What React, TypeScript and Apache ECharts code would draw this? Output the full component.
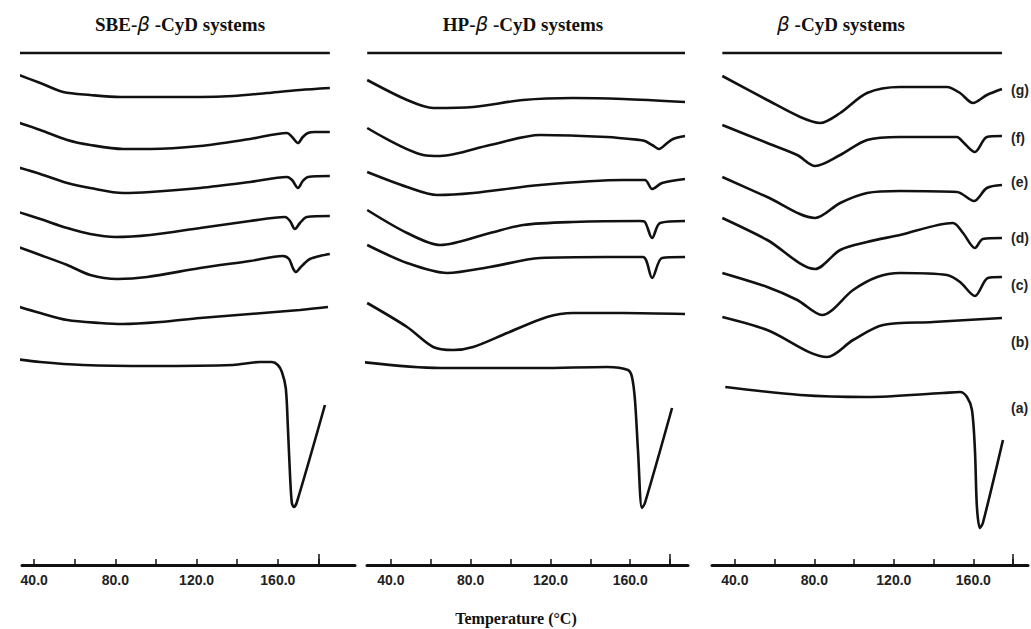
import React, { useEffect, useRef } from 'react';
import * as echarts from 'echarts';

// Temperature ticks / labels (°C)
const T_TICKS = [40, 60, 80, 100, 120, 140, 160, 180];
const T_LABELS = [40, 80, 120, 160];
const T_LONG_TICK = [180];

// Heat flow (arbitrary units, curves offset vertically) vs temperature (°C)
// SBE-β-CyD systems
const sbeTop = [[29.7, 512], [185.6, 512]];
const sbeG = [[29.7, 492], [43.0, 482], [54.3, 473], [67.6, 470], [82.3, 468], [88.7, 468], [121.7, 468], [137.9, 469], [154.6, 472], [170.9, 475], [185.6, 477]];
const sbeF = [[29.7, 444], [43.0, 435], [56.3, 425], [67.6, 420], [83.8, 416], [97.1, 416], [121.7, 419], [146.3, 426], [164.5, 432], [167.0, 428], [169.9, 422], [172.3, 428], [174.8, 432], [178.2, 433], [185.6, 433]];
const sbeE = [[29.7, 399], [43.0, 391], [56.3, 382], [67.6, 377], [83.8, 372], [97.1, 373], [121.7, 377], [146.3, 383], [164.5, 388], [167.0, 385], [169.9, 377], [172.3, 384], [174.8, 388], [185.6, 389]];
const sbeD = [[30.7, 354], [43.0, 346], [56.3, 337], [67.6, 331], [79.9, 328], [97.1, 330], [121.7, 337], [146.3, 344], [163.5, 348], [166.0, 344], [168.4, 336], [170.9, 342], [174.3, 348], [185.6, 349]];
const sbeC = [[30.7, 319], [43.0, 310], [56.3, 300], [67.6, 290], [80.9, 286], [95.6, 288], [121.7, 297], [146.3, 304], [162.5, 309], [165.5, 306], [167.4, 297], [168.9, 293], [170.9, 297], [173.3, 302], [175.8, 306], [180.7, 309], [185.6, 311]];
const sbeB = [[29.7, 260], [43.0, 252], [56.3, 245], [72.4, 242], [83.8, 241], [102.0, 243], [121.7, 247], [146.3, 251], [170.9, 255], [184.7, 258]];
const sbeA = [[27.2, 207], [43.0, 203], [64.1, 200], [97.1, 199], [137.9, 200], [151.2, 203], [157.1, 203], [160.0, 200], [162.0, 193], [163.9, 177], [164.9, 140], [166.0, 90], [166.9, 62], [167.9, 58], [169.4, 63], [183.2, 160]];

// HP-β-CyD systems
const hpTop = [[28.1, 512], [187.5, 512]];
const hpG = [[28.1, 485], [48.1, 465], [61.2, 457], [81.2, 458], [106.3, 465], [131.4, 467], [156.4, 466], [187.5, 463]];
const hpF = [[28.1, 437], [56.2, 410], [64.7, 409], [89.7, 420], [114.8, 430], [148.4, 428], [164.9, 425], [167.4, 424], [171.0, 420], [174.5, 416], [178.0, 421], [181.5, 426], [187.5, 429]];
const hpE = [[28.1, 393], [48.1, 378], [63.2, 370], [81.2, 372], [114.8, 380], [156.4, 385], [167.4, 385], [171.0, 376], [176.0, 382], [187.5, 386]];
const hpD = [[28.1, 355], [48.1, 332], [64.7, 320], [89.7, 332], [106.3, 340], [131.4, 343], [164.9, 344], [167.4, 343], [171.0, 327], [175.0, 342], [187.5, 344]];
const hpC = [[28.1, 320], [48.1, 302], [68.2, 292], [89.7, 298], [114.8, 307], [148.4, 308], [166.4, 308], [171.0, 287], [176.0, 307], [187.5, 308]];
const hpB = [[28.1, 262], [48.1, 238], [61.2, 218], [71.2, 215], [81.2, 218], [98.3, 232], [118.3, 248], [131.4, 252], [156.4, 252], [187.5, 251]];
const hpA = [[21.1, 204], [64.7, 197], [114.8, 197], [148.4, 198], [158.9, 195], [160.9, 188], [162.4, 165], [163.9, 115], [165.9, 57], [167.4, 62], [181.0, 157]];

// β-CyD systems
const bcTop = [[33.7, 512], [174.4, 512]];
const bcG = [[33.7, 489], [56.3, 465], [72.9, 448], [82.9, 442], [93.0, 452], [106.5, 472], [123.1, 478], [146.7, 478], [153.3, 472], [159.8, 462], [166.8, 470], [174.4, 476]];
const bcF = [[33.7, 440], [56.3, 422], [71.4, 410], [80.4, 399], [93.0, 410], [106.5, 425], [123.1, 428], [151.8, 428], [154.8, 423], [160.8, 413], [166.8, 428], [174.4, 429]];
const bcE = [[33.7, 388], [56.3, 368], [80.4, 347], [93.0, 362], [106.5, 372], [123.1, 374], [151.8, 373], [160.3, 364], [166.8, 377], [174.4, 380]];
const bcD = [[33.7, 347], [56.3, 325], [80.4, 296], [93.0, 315], [106.5, 323], [123.1, 330], [149.7, 342], [154.8, 332], [160.8, 317], [164.8, 326], [174.4, 327]];
const bcC = [[33.7, 292], [56.3, 278], [71.4, 265], [83.9, 250], [99.5, 275], [111.6, 288], [123.1, 292], [146.7, 290], [153.3, 283], [160.8, 269], [167.3, 287], [174.4, 288]];
const bcB = [[33.7, 248], [56.3, 235], [86.4, 208], [99.5, 225], [114.6, 240], [139.7, 243], [174.4, 247]];
const bcA = [[35.2, 178], [72.9, 170], [106.5, 168], [144.7, 172], [153.3, 173], [156.8, 168], [159.3, 155], [160.8, 115], [161.8, 58], [163.3, 37], [164.8, 42], [174.9, 125]];

const PANEL_TITLES = ['SBE-{b|β} -CyD systems', 'HP-{b|β} -CyD systems', '{b|β} -CyD systems'];
const CURVE_LABELS = ['(g)', '(f)', '(e)', '(d)', '(c)', '(b)', '(a)'];
const X_TITLE = 'Temperature (°C)';

const panels = [
  { left: 22, width: 333, min: 34, max: 198, curves: [sbeTop, sbeG, sbeF, sbeE, sbeD, sbeC, sbeB, sbeA], titleX: 180 },
  { left: 367, width: 321, min: 28, max: 189, curves: [hpTop, hpG, hpF, hpE, hpD, hpC, hpB, hpA], titleX: 523 },
  { left: 712, width: 316, min: 28.5, max: 187.5, curves: [bcTop, bcG, bcF, bcE, bcD, bcC, bcB, bcA], titleX: 841 },
];
const labelY = [90, 138, 182, 238, 285, 342, 408];

export default function App() {
  const ref = useRef<HTMLDivElement>(null);
  useEffect(() => {
    const chart = echarts.init(ref.current!, null, { renderer: 'svg' });
    const grid: any[] = [];
    const xAxis: any[] = [];
    const yAxis: any[] = [];
    const series: any[] = [];
    panels.forEach((p, i) => {
      grid.push({ left: p.left, width: p.width, top: 45, height: 520 });
      xAxis.push({
        type: 'value', gridIndex: i, min: p.min, max: p.max, position: 'bottom',
        axisLine: { show: true, onZero: false, lineStyle: { color: '#111', width: 3 } },
        axisTick: { show: true, inside: true, length: 6, customValues: T_TICKS, lineStyle: { color: '#111', width: 1.5 } },
        axisLabel: {
          show: true, customValues: T_LABELS, formatter: (v: number) => v.toFixed(1),
          fontFamily: 'Liberation Sans, Arial, sans-serif', fontWeight: 'bold', fontSize: 14, color: '#222', margin: 8,
        },
        splitLine: { show: false },
      });
      xAxis.push({
        type: 'value', gridIndex: i, min: p.min, max: p.max, position: 'bottom',
        axisLine: { show: false, onZero: false },
        axisTick: { show: true, inside: true, length: 11, customValues: T_LONG_TICK, lineStyle: { color: '#111', width: 1.5 } },
        axisLabel: { show: false },
        splitLine: { show: false },
      });
      yAxis.push({ type: 'value', gridIndex: i, min: 0, max: 520, show: false });
      p.curves.forEach((c) => {
        series.push({
          type: 'line', xAxisIndex: i * 2, yAxisIndex: i, data: c,
          symbol: 'none', showSymbol: false, smooth: 0.3, clip: false, silent: true,
          lineStyle: { color: '#111', width: 2.6 },
        });
      });
    });
    const graphic: any[] = [];
    panels.forEach((p, i) => {
      graphic.push({
        type: 'text', x: p.titleX, y: 24,
        style: {
          text: PANEL_TITLES[i], align: 'center', verticalAlign: 'middle',
          fontFamily: 'Liberation Serif, Times New Roman, serif', fontWeight: 'bold', fontSize: 19, fill: '#111',
          rich: { b: { fontFamily: 'DejaVu Sans, sans-serif', fontStyle: 'italic', fontWeight: 'normal', fontSize: 20, fill: '#111' } },
        },
      });
    });
    CURVE_LABELS.forEach((t, k) => {
      graphic.push({
        type: 'text', x: 1011, y: labelY[k],
        style: { text: t, align: 'left', verticalAlign: 'middle', fontFamily: 'Liberation Sans, Arial, sans-serif', fontWeight: 'bold', fontSize: 14, fill: '#222' },
      });
    });
    graphic.push({
      type: 'text', x: 516, y: 618,
      style: { text: X_TITLE, align: 'center', verticalAlign: 'middle', fontFamily: 'Liberation Serif, Times New Roman, serif', fontWeight: 'bold', fontSize: 16, fill: '#111' },
    });
    chart.setOption({
      animation: false,
      backgroundColor: '#fff',
      grid, xAxis, yAxis, series, graphic,
    });
    return () => chart.dispose();
  }, []);
  return <div ref={ref} style={{ position: 'fixed', left: 0, top: 0, width: 1031, height: 629, background: '#fff' }} />;
}
